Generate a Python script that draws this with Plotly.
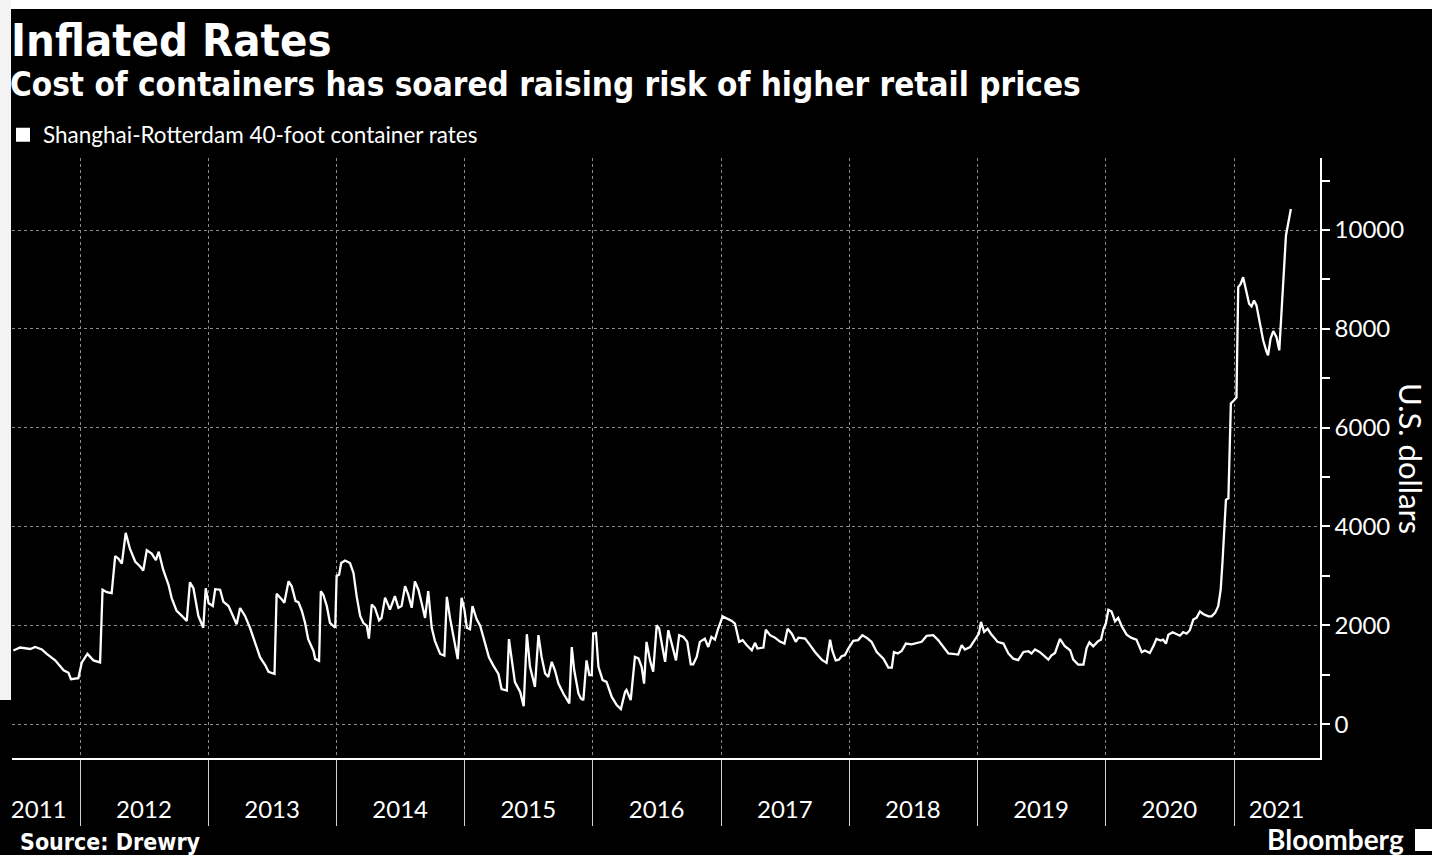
import plotly.graph_objects as go

# ---------------- data ----------------
dates_2011 = ["2011-06-25", "2011-07-14", "2011-08-12", "2011-08-26", "2011-09-14", "2011-09-28",
              "2011-10-22", "2011-11-15", "2011-11-29", "2011-12-06", "2011-12-27"]
rates_2011 = [1490, 1550, 1520, 1560, 1510, 1420, 1290, 1090, 1040, 910, 930]

dates_2012 = ["2012-01-06", "2012-01-22", "2012-02-08", "2012-02-27", "2012-03-05", "2012-03-17",
              "2012-03-31", "2012-04-10", "2012-04-19", "2012-04-29", "2012-05-10", "2012-05-22",
              "2012-06-06", "2012-06-20", "2012-06-29", "2012-07-09", "2012-07-23", "2012-08-04",
              "2012-08-12", "2012-08-25", "2012-09-09", "2012-09-18", "2012-10-02", "2012-10-17",
              "2012-10-31", "2012-11-09", "2012-11-19", "2012-12-03", "2012-12-17", "2012-12-24"]
rates_2012 = [1250, 1420, 1290, 1250, 2720, 2670, 2650, 3400, 3350, 3250, 3870, 3550,
              3290, 3190, 3110, 3520, 3450, 3320, 3490, 3120, 2820, 2550, 2290, 2190,
              2090, 2870, 2750, 2190, 1950, 2750]

dates_2013 = ["2013-01-01", "2013-01-13", "2013-01-20", "2013-02-03", "2013-02-12", "2013-02-27",
              "2013-03-11", "2013-03-22", "2013-04-01", "2013-04-15", "2013-04-29", "2013-05-14",
              "2013-05-28", "2013-06-11", "2013-06-21", "2013-07-08", "2013-07-14", "2013-07-29",
              "2013-08-05", "2013-08-17", "2013-08-26", "2013-09-06", "2013-09-14", "2013-09-24",
              "2013-10-03", "2013-10-12", "2013-10-27", "2013-11-01", "2013-11-12", "2013-11-17",
              "2013-11-24", "2013-12-04", "2013-12-13", "2013-12-28"]
rates_2013 = [2450, 2390, 2730, 2720, 2480, 2390, 2190, 2020, 2350, 2190, 1950, 1620,
              1350, 1200, 1060, 1015, 2640, 2520, 2455, 2890, 2790, 2490, 2470, 2290,
              2050, 1720, 1480, 1320, 1280, 2690, 2620, 2390, 2050, 1950]

dates_2014 = ["2014-01-01", "2014-01-08", "2014-01-14", "2014-01-25", "2014-02-08", "2014-02-18",
              "2014-02-27", "2014-03-09", "2014-03-18", "2014-03-28", "2014-04-03", "2014-04-11",
              "2014-04-20", "2014-05-02", "2014-05-09", "2014-05-19", "2014-06-02", "2014-06-16",
              "2014-06-26", "2014-07-05", "2014-07-15", "2014-07-24", "2014-08-03", "2014-08-12",
              "2014-08-22", "2014-08-31", "2014-09-10", "2014-09-19", "2014-09-29", "2014-10-08",
              "2014-10-23", "2014-11-04", "2014-11-11", "2014-11-20", "2014-11-30", "2014-12-12",
              "2014-12-23", "2014-12-31"]
rates_2014 = [3000, 3025, 3260, 3310, 3260, 3060, 2590, 2190, 2050, 1990, 1730, 2420,
              2355, 2100, 2150, 2560, 2320, 2590, 2355, 2390, 2790, 2620, 2355, 2890,
              2720, 2455, 2150, 2690, 1950, 1685, 1420, 1385, 2575, 2150, 1750, 1315,
              2555, 2320]

dates_2015 = ["2015-01-07", "2015-01-16", "2015-01-23", "2015-02-04", "2015-02-14", "2015-02-28",
              "2015-03-11", "2015-03-24", "2015-04-07", "2015-04-16", "2015-05-01", "2015-05-07",
              "2015-05-15", "2015-05-24", "2015-06-08", "2015-06-18", "2015-06-27", "2015-07-06",
              "2015-07-20", "2015-07-30", "2015-08-08", "2015-08-18", "2015-08-27", "2015-09-06",
              "2015-09-15", "2015-09-25", "2015-10-09", "2015-10-26", "2015-11-02", "2015-11-09",
              "2015-11-21", "2015-11-28", "2015-12-05", "2015-12-14", "2015-12-22", "2015-12-29"]
rates_2015 = [1950, 1920, 2390, 2120, 1990, 1650, 1350, 1180, 1015, 710, 680, 1720,
              1315, 850, 650, 360, 1820, 1160, 755, 1800, 1360, 1025, 955, 1260,
              1090, 820, 620, 420, 1560, 1090, 620, 520, 485, 1290, 990, 990]

dates_2016 = ["2016-01-02", "2016-01-10", "2016-01-17", "2016-01-29", "2016-02-09", "2016-02-24",
              "2016-03-09", "2016-03-21", "2016-04-02", "2016-04-06", "2016-04-18", "2016-04-30",
              "2016-05-10", "2016-05-19", "2016-05-26", "2016-06-02", "2016-06-12", "2016-06-21",
              "2016-07-01", "2016-07-08", "2016-07-18", "2016-07-25", "2016-08-03", "2016-08-13",
              "2016-08-25", "2016-09-03", "2016-09-15", "2016-09-26", "2016-10-06", "2016-10-13",
              "2016-10-23", "2016-11-01", "2016-11-15", "2016-11-25", "2016-12-04", "2016-12-14",
              "2016-12-23"]
rates_2016 = [1830, 1845, 1160, 890, 855, 550, 385, 305, 655, 690, 485, 1360,
              1330, 1160, 820, 1665, 1290, 1060, 2000, 1930, 1530, 1260, 1900, 1600,
              1290, 1800, 1765, 1665, 1210, 1210, 1360, 1665, 1730, 1560, 1765, 1710,
              1930]

dates_2017 = ["2017-01-05", "2017-01-16", "2017-01-31", "2017-02-09", "2017-02-21", "2017-03-03",
              "2017-03-14", "2017-03-29", "2017-04-07", "2017-04-14", "2017-05-01", "2017-05-08",
              "2017-05-20", "2017-06-03", "2017-06-17", "2017-06-30", "2017-07-09", "2017-07-21",
              "2017-08-01", "2017-08-09", "2017-08-28", "2017-09-11", "2017-09-25", "2017-10-14",
              "2017-10-28", "2017-11-07", "2017-11-13", "2017-11-23", "2017-12-02", "2017-12-10",
              "2017-12-19", "2017-12-29"]
rates_2017 = [2180, 2135, 2090, 2035, 1665, 1700, 1600, 1495, 1645, 1530, 1550, 1910,
              1800, 1750, 1670, 1630, 1930, 1830, 1665, 1750, 1730, 1600, 1460, 1305,
              1240, 1710, 1495, 1290, 1305, 1375, 1395, 1530]

dates_2018 = ["2018-01-12", "2018-01-26", "2018-02-07", "2018-02-19", "2018-03-05", "2018-03-20",
              "2018-04-08", "2018-04-22", "2018-05-02", "2018-05-08", "2018-05-19", "2018-05-30",
              "2018-06-11", "2018-06-27", "2018-07-12", "2018-07-26", "2018-08-09", "2018-08-28",
              "2018-09-11", "2018-09-26", "2018-10-10", "2018-10-29", "2018-11-07", "2018-11-17",
              "2018-11-26", "2018-12-11", "2018-12-25"]
rates_2018 = [1685, 1700, 1800, 1750, 1665, 1460, 1325, 1145, 1145, 1460, 1430, 1480,
              1630, 1615, 1645, 1665, 1785, 1800, 1700, 1560, 1430, 1415, 1410, 1600,
              1510, 1560, 1710]

dates_2019 = ["2019-01-05", "2019-01-11", "2019-01-20", "2019-01-30", "2019-02-08", "2019-02-20",
              "2019-02-27", "2019-03-16", "2019-03-30", "2019-04-13", "2019-04-27", "2019-05-12",
              "2019-05-26", "2019-06-04", "2019-06-14", "2019-06-28", "2019-07-12", "2019-07-22",
              "2019-07-31", "2019-08-10", "2019-08-24", "2019-09-07", "2019-09-22", "2019-10-01",
              "2019-10-15", "2019-10-30", "2019-11-08", "2019-11-16", "2019-11-27", "2019-12-10",
              "2019-12-19", "2019-12-26"]
rates_2019 = [1830, 2070, 1865, 1930, 1830, 1730, 1665, 1630, 1430, 1325, 1295, 1460,
              1475, 1430, 1510, 1455, 1375, 1305, 1390, 1440, 1725, 1575, 1495, 1305,
              1205, 1205, 1540, 1655, 1575, 1675, 1710, 1925]

dates_2020 = ["2020-01-02", "2020-01-09", "2020-01-18", "2020-01-28", "2020-02-06", "2020-02-16",
              "2020-03-01", "2020-03-15", "2020-03-29", "2020-04-13", "2020-04-22", "2020-05-06",
              "2020-05-16", "2020-05-25", "2020-06-06", "2020-06-13", "2020-06-21", "2020-06-28",
              "2020-07-10", "2020-07-21", "2020-07-31", "2020-08-09", "2020-08-19", "2020-08-28",
              "2020-09-07", "2020-09-16", "2020-09-26", "2020-10-05", "2020-10-20", "2020-10-29",
              "2020-11-08", "2020-11-17", "2020-11-24", "2020-11-29", "2020-12-04", "2020-12-09",
              "2020-12-16", "2020-12-23"]
rates_2020 = [2045, 2315, 2280, 2080, 2150, 1980, 1810, 1745, 1710, 1455, 1490, 1440,
              1575, 1725, 1690, 1710, 1630, 1810, 1860, 1825, 1790, 1860, 1830, 1900,
              2115, 2150, 2280, 2230, 2180, 2180, 2250, 2385, 2720, 3260, 3865, 4540,
              4570, 6490]

dates_2021 = ["2021-01-01", "2021-01-08", "2021-01-13", "2021-01-20", "2021-01-27", "2021-02-04",
              "2021-02-13", "2021-02-20", "2021-02-27", "2021-03-06", "2021-03-16", "2021-03-25",
              "2021-04-04", "2021-04-08", "2021-04-15", "2021-04-23", "2021-05-02", "2021-05-10",
              "2021-05-29", "2021-06-04", "2021-06-12"]
rates_2021 = [6555, 6610, 8845, 8910, 9045, 8775, 8510, 8455, 8575, 8475, 8105, 7770,
              7530, 7465, 7800, 7955, 7830, 7565, 9890, 10120, 10425]

series_name = "Shanghai-Rotterdam 40-foot container rates"

year_boundaries = ["2012-01-01", "2013-01-01", "2014-01-01", "2015-01-01", "2016-01-01",
                   "2017-01-01", "2018-01-01", "2019-01-01", "2020-01-01", "2021-01-01"]
year_label_positions = ["2011-09-05", "2012-07-01", "2013-07-01", "2014-07-01", "2015-07-01",
                        "2016-07-01", "2017-07-01", "2018-07-01", "2019-07-01", "2020-07-01",
                        "2021-05-02"]
year_labels = ["2011", "2012", "2013", "2014", "2015", "2016", "2017", "2018", "2019", "2020", "2021"]

y_tick_values = [0, 2000, 4000, 6000, 8000, 10000]
y_tick_labels = ["0", "2000", "4000", "6000", "8000", "10000"]

x_range = ["2011-06-21", "2021-09-03"]
y_range = [-686, 11458]

dates = (dates_2011 + dates_2012 + dates_2013 + dates_2014 + dates_2015 + dates_2016
         + dates_2017 + dates_2018 + dates_2019 + dates_2020 + dates_2021)
rates = (rates_2011 + rates_2012 + rates_2013 + rates_2014 + rates_2015 + rates_2016
         + rates_2017 + rates_2018 + rates_2019 + rates_2020 + rates_2021)

# ---------------- figure ----------------
W, H = 1432, 855
ML, MR, MT, MB = 12, 112, 158, 97
PW, PH = W - ML - MR, H - MT - MB


def px(x):  # page pixel -> paper x
    return (x - ML) / PW


def py(y):  # page pixel -> paper y
    return (H - MB - y) / PH


TITLE_FONT = "DejaVu Sans Condensed, DejaVu Sans, sans-serif"
TICK_FONT = "Lato, Open Sans, sans-serif"
GRID = "#8a8a8a"

fig = go.Figure()
fig.add_trace(go.Scatter(
    x=dates, y=rates, mode="lines", name=series_name,
    line=dict(color="white", width=2.3), showlegend=False,
    hovertemplate="%{x|%b %d, %Y}: $%{y:,}<extra></extra>",
))
# legend key (square swatch like the original)
fig.add_trace(go.Scatter(
    x=[None], y=[None], mode="markers", name=series_name, xaxis="x2",
    marker=dict(symbol="square", size=14, color="white"), showlegend=True,
))

fig.update_layout(
    width=W, height=H,
    margin=dict(l=ML, r=MR, t=MT, b=MB, autoexpand=False),
    paper_bgcolor="black", plot_bgcolor="black",
    font=dict(family=TICK_FONT, color="white"),
    title=dict(
        text="<b>Inflated Rates</b>", x=11 / W, xanchor="left", xref="container",
        y=1 - 40 / H, yanchor="middle", yref="container",
        font=dict(family=TITLE_FONT, size=45, color="white"),
    ),
    legend=dict(
        x=px(3), xanchor="left", y=py(135), yanchor="middle",
        orientation="h", bgcolor="rgba(0,0,0,0)",
        font=dict(family=TICK_FONT, size=22.5, color="white"),
    ),
    xaxis=dict(
        type="date", range=x_range, tickmode="array", tickvals=year_boundaries,
        showticklabels=False, ticks="outside", ticklen=66, tickwidth=1, tickcolor="#cfcfcf",
        showgrid=True, gridcolor=GRID, griddash="dot", gridwidth=1,
        showline=True, linecolor="white", linewidth=1.5, zeroline=False,
    ),
    xaxis2=dict(
        type="date", range=x_range, overlaying="x", anchor="y", side="bottom",
        tickmode="array", tickvals=year_label_positions, ticktext=year_labels,
        ticks="outside", ticklen=30, tickcolor="rgba(0,0,0,0)",
        showgrid=False, showline=False, zeroline=False,
        tickfont=dict(family=TICK_FONT, size=24, color="white"),
    ),
    yaxis=dict(
        side="right", range=y_range, tickmode="array", tickvals=y_tick_values,
        ticktext=y_tick_labels, ticks="outside", ticklen=8, tickwidth=1.5, tickcolor="white",
        tickfont=dict(family=TICK_FONT, size=24, color="white"),
        showgrid=True, gridcolor=GRID, griddash="dot", gridwidth=1,
        showline=True, linecolor="white", linewidth=1.5, zeroline=False,
        minor=dict(tick0=0, dtick=1000, ticks="outside", ticklen=8, tickwidth=1.5,
                   tickcolor="white", showgrid=False),
    ),
    annotations=[
        dict(text="<b>Cost of containers has soared raising risk of higher retail prices</b>",
             xref="paper", yref="paper", x=px(8), xanchor="left", y=py(84), yanchor="middle",
             showarrow=False, font=dict(family=TITLE_FONT, size=33, color="white")),
        dict(text="U.S. dollars", xref="paper", yref="paper", x=px(1411), y=py(459),
             xanchor="center", yanchor="middle", textangle=90, showarrow=False,
             font=dict(family=TICK_FONT, size=31, color="white")),
        dict(text="<b>Source: Drewry</b>", xref="paper", yref="paper", x=px(18),
             xanchor="left", y=py(842), yanchor="middle", showarrow=False,
             font=dict(family=TITLE_FONT, size=23, color="white")),
        dict(text="<b>Bloomberg</b>", xref="paper", yref="paper", x=px(1406),
             xanchor="right", y=py(839), yanchor="middle", showarrow=False,
             font=dict(family=TICK_FONT, size=28, color="white")),
    ],
    shapes=[
        # white page strip along the top and left of the screenshot
        dict(type="rect", xref="paper", yref="paper", x0=px(-20), x1=px(W + 20),
             y0=py(9), y1=py(-20), fillcolor="white", line=dict(width=0), layer="above"),
        dict(type="rect", xref="paper", yref="paper", x0=px(-20), x1=px(11),
             y0=py(700), y1=py(-20), fillcolor="#f3f3f3", line=dict(width=0), layer="above"),
        # small Bloomberg logo block
        dict(type="rect", xref="paper", yref="paper", x0=px(1415), x1=px(1432),
             y0=py(851), y1=py(829), fillcolor="white", line=dict(width=0), layer="above"),
    ],
)

fig.write_html(
    "out.html",
    config={"displayModeBar": False},
    post_script="document.body.style.margin='0';document.body.style.overflow='hidden';",
)
